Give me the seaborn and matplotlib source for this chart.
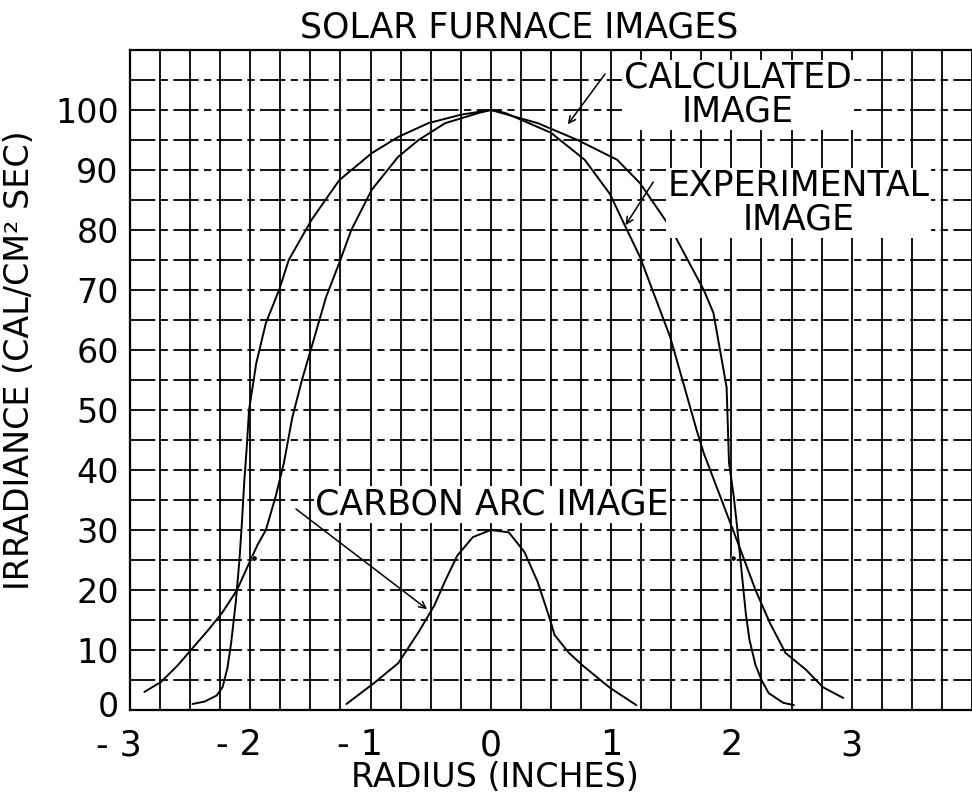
#!/usr/bin/env python3
# Solar furnace images: irradiance vs radius, old graph-paper style

import numpy as np
import pandas as pd
import matplotlib
matplotlib.use("Agg")
import matplotlib.pyplot as plt
import seaborn as sns
from matplotlib.transforms import ScaledTranslation

# calculated image (outer near the top, sharp foot at +-2.5)
calc_r = [-2.48, -2.38, -2.28, -2.23, -2.19, -2.16, -2.12, -2.09, -2.07, -2.05,
          -2.03, -2.01, -1.95, -1.87, -1.76, -1.68, -1.49, -1.26, -0.99, -0.77,
          -0.52, -0.25, 0.0, 0.39, 0.72, 1.05, 1.24, 1.49, 1.77, 1.85,
          1.96, 1.98, 2.02, 2.05, 2.09, 2.12, 2.15, 2.2, 2.25, 2.31, 2.43, 2.52]
calc_irr = [1.0, 1.4, 2.4, 3.8, 7.0, 11.0, 18.0, 25.0, 31.0, 38.0,
            43.5, 50.0, 57.8, 64.5, 70.0, 75.0, 81.7, 88.3, 92.8, 95.5,
            97.8, 99.2, 100.0, 97.8, 95.0, 91.7, 87.8, 80.5, 70.0, 66.2,
            53.8, 41.2, 35.5, 30.0, 22.0, 16.0, 11.7, 7.5, 5.0, 2.8, 1.2, 0.8]

# experimental image (inner near the top, long tails)
exp_r = [-2.88, -2.74, -2.6, -2.48, -2.35, -2.23, -2.11, -2.02, -1.94, -1.87,
         -1.79, -1.72, -1.65, -1.57, -1.49, -1.37, -1.26, -1.16, -0.99, -0.77,
         -0.6, -0.38, -0.1, 0.0, 0.12, 0.5, 0.78, 0.99, 1.12, 1.24,
         1.49, 1.6, 1.71, 1.77, 1.96, 2.07, 2.2, 2.32, 2.45, 2.62, 2.76, 2.93]
exp_irr = [3.0, 4.7, 7.5, 10.3, 13.3, 16.3, 20.0, 24.0, 27.5, 30.0,
           35.5, 41.2, 48.8, 55.0, 60.5, 68.8, 74.5, 80.0, 86.7, 92.2,
           95.0, 97.8, 99.5, 100.0, 99.5, 96.2, 91.7, 86.0, 80.5, 75.5,
           62.2, 54.5, 46.7, 42.8, 32.8, 27.0, 20.0, 14.5, 9.5, 6.7, 3.8, 2.0]

# carbon arc image
arc_r = [-1.2, -0.97, -0.77, -0.6, -0.47, -0.38, -0.28, -0.15, 0.0, 0.15,
         0.28, 0.39, 0.49, 0.53, 0.65, 0.77, 0.99, 1.21]
arc_irr = [1.0, 4.5, 7.8, 13.0, 17.4, 21.5, 25.7, 28.8, 30.0, 29.6,
           26.3, 21.3, 15.2, 12.5, 9.5, 7.3, 3.7, 0.8]

# marked points where the curves cross
dot_r = [-1.97, 2.01]
dot_irr = [25.3, 25.3]

x_ticks = [-3, -2, -1, 0, 1, 2, 3]
x_labels = ["- 3", "- 2", "- 1", "0", "1", "2", "3"]
y_ticks = list(range(0, 101, 10))

sns.set_theme(style="white")
plt.rcParams['font.family'] = ['DejaVu Sans']
plt.rcParams['text.color'] = 'black'

fig = plt.figure(figsize=(9.72, 7.98), dpi=100)
ax = fig.add_axes([0.1337, 0.1103, 0.8663, 0.8271])

calc_df = pd.DataFrame({"r": calc_r, "irr": calc_irr})
exp_df = pd.DataFrame({"r": exp_r, "irr": exp_irr})
arc_df = pd.DataFrame({"r": arc_r, "irr": arc_irr})

sns.lineplot(data=calc_df, x="r", y="irr", sort=False, color="black", lw=1.4, ax=ax, zorder=3)
sns.lineplot(data=exp_df, x="r", y="irr", sort=False, color="black", lw=1.4, ax=ax, zorder=3)
sns.lineplot(data=arc_df, x="r", y="irr", sort=False, color="black", lw=1.4, ax=ax, zorder=3)
sns.scatterplot(x=dot_r, y=dot_irr, color="black", s=14, ax=ax, zorder=4)

ax.set_xlim(-3, 3.93)
ax.set_ylim(0, 110)

# graph paper grid
ax.set_xticks(x_ticks)
ax.set_xticklabels(x_labels)
ax.set_xticks(np.arange(-3, 4.01, 0.25), minor=True)
ax.set_yticks(y_ticks)
ax.set_yticks(np.arange(0, 111, 5), minor=True)
ax.grid(True, which="both", axis="x", color="black", lw=1.3)
ax.grid(True, which="both", axis="y", color="black", lw=1.3, linestyle=(0, (14, 3, 4, 3)))
ax.set_axisbelow(True)

ax.tick_params(axis="both", which="both", length=0)
ax.tick_params(axis="x", labelsize=25, pad=13, colors="black")
ax.tick_params(axis="y", labelsize=24, pad=8, colors="black")

# keep the digit of the negative labels on its grid line
for lab in ax.get_xticklabels()[:3]:
    lab.set_horizontalalignment("right")
    lab.set_transform(lab.get_transform() + ScaledTranslation(0.12, 0, fig.dpi_scale_trans))
# the zero of the y axis sits a little above the bottom line
zero_lab = ax.get_yticklabels()[0]
zero_lab.set_transform(zero_lab.get_transform() + ScaledTranslation(0, 0.06, fig.dpi_scale_trans))

for side in ["left", "bottom", "top"]:
    ax.spines[side].set_color("black")
    ax.spines[side].set_linewidth(1.6)
ax.spines["right"].set_visible(False)

ax.set_xlabel("RADIUS (INCHES)", fontsize=24, color="black")
ax.xaxis.set_label_coords(0.433, -0.078)
ax.set_ylabel("IRRADIANCE (CAL/CM² SEC)", fontsize=24, color="black")
ax.yaxis.set_label_coords(-0.112, 0.53)

fig.text(0.534, 0.965, "SOLAR FURNACE IMAGES", ha="center", va="center", fontsize=25, color="black")

box = dict(facecolor="white", edgecolor="none", pad=1)
arrow = dict(arrowstyle="->", color="black", lw=1.1, shrinkA=0, shrinkB=0)

ax.text(2.05, 102.5, "CALCULATED\nIMAGE", ha="center", va="center", fontsize=25,
        linespacing=1.0, bbox=box, zorder=5)
ax.annotate("", xy=(0.64, 97.6), xytext=(0.95, 106), arrowprops=arrow, zorder=5)

ax.text(2.56, 84.5, "EXPERIMENTAL\nIMAGE", ha="center", va="center", fontsize=25,
        linespacing=1.0, bbox=box, zorder=5)
ax.annotate("", xy=(1.12, 80.8), xytext=(1.35, 88), arrowprops=arrow, zorder=5)

ax.text(0.01, 34.2, "CARBON ARC IMAGE", ha="center", va="center", fontsize=25, bbox=box, zorder=5)
ax.annotate("", xy=(-0.53, 16.8), xytext=(-1.62, 33.5), arrowprops=arrow, zorder=5)

plt.savefig("out.png", dpi=100)
